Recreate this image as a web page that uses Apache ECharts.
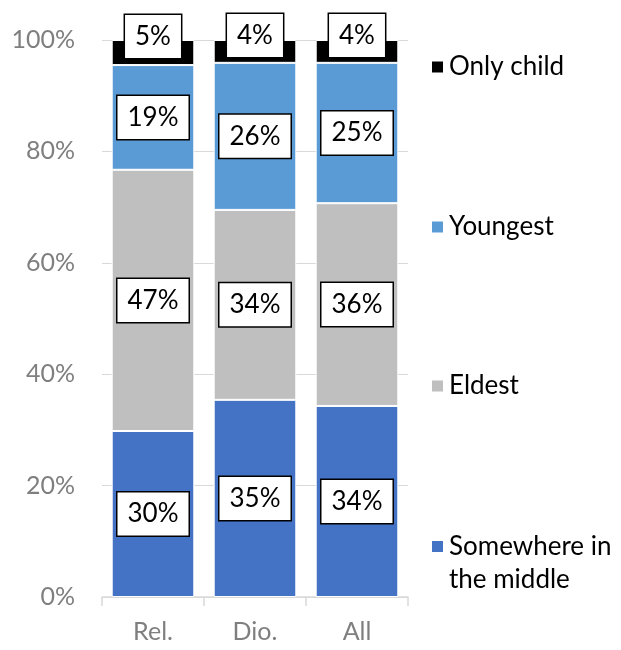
<!DOCTYPE html>
<html>
<head>
<meta charset="utf-8">
<script src="https://cdn.jsdelivr.net/npm/echarts@6/dist/echarts.min.js"></script>
<style>html,body{margin:0;padding:0;background:#fff;}#c{width:621px;height:650px;}</style>
</head>
<body>
<div id="c"></div>
<script>
var categories = ['Rel.', 'Dio.', 'All'];
var middle = [29.8, 35.4, 34.3];
var eldest = [46.9, 34.1, 36.4];
var youngest = [18.8, 26.4, 25.2];
var onlyChild = [4.5, 4.1, 4.1];
var yTicks = [0, 20, 40, 60, 80, 100];

var FONT = 'Lato';
var chart = echarts.init(document.getElementById('c'), null, {renderer: 'canvas'});

function lbl(extra) {
  var o = {
    show: true,
    position: 'inside',
    formatter: function (p) { return Math.round(p.value) + '%'; },
    fontFamily: FONT,
    fontSize: 26,
    lineHeight: 30,
    color: '#000',
    backgroundColor: '#fff',
    borderColor: '#000',
    borderWidth: 1.5,
    padding: [7, 10, 6, 10]
  };
  for (var k in extra) o[k] = extra[k];
  return o;
}

function mkSeries(name, data, color, labelExtra) {
  return {
    name: name,
    type: 'bar',
    stack: 'total',
    data: data,
    barCategoryGap: '19%',
    itemStyle: { color: color, borderColor: '#fff', borderWidth: 1 },
    label: lbl(labelExtra || {}),
    emphasis: { disabled: true }
  };
}

function mkLegend(name, top, extraText) {
  var ts = { fontFamily: FONT, fontSize: 26, color: '#000' };
  if (extraText) for (var k in extraText) ts[k] = extraText[k];
  return {
    data: [name],
    left: 425,
    top: top,
    orient: 'vertical',
    itemWidth: 13,
    itemHeight: 13,
    itemGap: 0,
    icon: 'rect',
    selectedMode: false,
    textStyle: ts,
    formatter: function (n) { return n === 'Somewhere in the middle' ? '\nSomewhere in\nthe middle' : n; }
  };
}

var option = {
  animation: false,
  backgroundColor: '#fff',
  grid: { left: 102, right: 213, top: 40, bottom: 53, containLabel: false },
  legend: [
    mkLegend('Only child', 49),
    mkLegend('Youngest', 209),
    mkLegend('Eldest', 368),
    mkLegend('Somewhere in the middle', 492, { lineHeight: 33 })
  ],
  xAxis: {
    type: 'category',
    data: categories,
    axisLine: { lineStyle: { color: '#d9d9d9', width: 1.5 } },
    axisTick: { show: true, length: 9, lineStyle: { color: '#d9d9d9', width: 1.5 } },
    axisLabel: { fontFamily: FONT, fontSize: 25, color: '#7f7f7f', margin: 22 }
  },
  yAxis: {
    type: 'value',
    min: 0,
    max: 100,
    interval: 20,
    axisLine: { show: false },
    axisTick: { show: false },
    splitLine: { lineStyle: { color: '#d9d9d9', width: 1 } },
    axisLabel: {
      fontFamily: FONT, fontSize: 25, color: '#7f7f7f', margin: 27,
      formatter: function (v) { return yTicks.indexOf(v) >= 0 ? v + '%' : ''; }
    }
  },
  series: [
    mkSeries('Somewhere in the middle', middle, '#4472C4'),
    mkSeries('Eldest', eldest, '#BFBFBF'),
    mkSeries('Youngest', youngest, '#5B9BD5'),
    mkSeries('Only child', onlyChild, '#000000', { offset: [0, -16] })
  ]
};
chart.setOption(option);
</script>
</body>
</html>
